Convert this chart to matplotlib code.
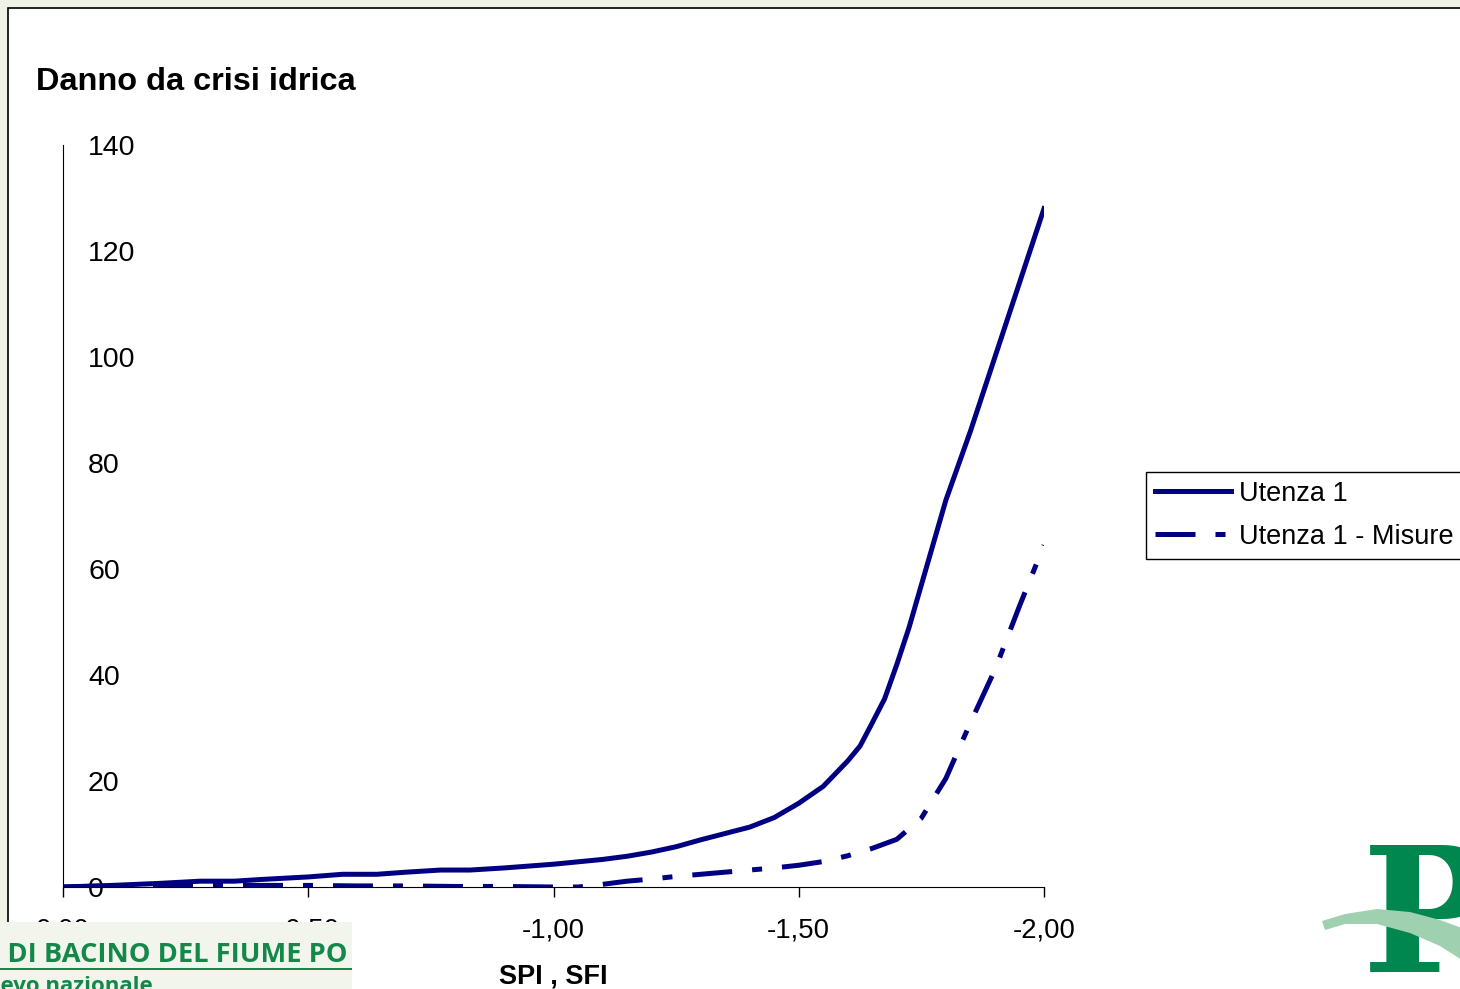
import matplotlib
matplotlib.use("Agg")
import matplotlib.pyplot as plt
from matplotlib.patches import Rectangle, Polygon

plt.rcParams['font.family'] = ['Liberation Sans', 'DejaVu Sans']

# SPI / SFI values (x) and damage (y)
spi = [0, -0.1, -0.2, -0.28, -0.35, -0.4, -0.5, -0.57, -0.64, -0.7, -0.77, -0.83, -0.9,
       -1.0, -1.1, -1.15, -1.2, -1.25, -1.3, -1.35, -1.4, -1.45, -1.5, -1.55, -1.6,
       -1.625, -1.65, -1.675, -1.7, -1.725, -1.75, -1.775, -1.8, -1.85, -1.9, -1.95, -2.0]
utenza1 = [0, 0.3, 0.7, 1.1, 1.1, 1.4, 1.9, 2.4, 2.4, 2.8, 3.2, 3.2, 3.6,
           4.3, 5.2, 5.8, 6.6, 7.6, 8.9, 10.1, 11.3, 13.1, 15.8, 19.0, 23.8,
           26.6, 31, 35.5, 42, 49, 57, 65, 73, 86, 100, 114, 128]

spi_m = [0, -0.1, -0.2, -0.3, -0.4, -0.5, -0.6, -0.7, -0.8, -0.9, -1.0, -1.05, -1.1,
         -1.15, -1.2, -1.25, -1.3, -1.35, -1.4, -1.45, -1.5, -1.55, -1.6, -1.65, -1.7,
         -1.75, -1.8, -1.85, -1.9, -1.95, -2.0]
utenza1_misure = [0, 0.2, 0.3, 0.3, 0.3, 0.3, 0.2, 0.2, 0.1, 0.1, 0.0, 0.0, 0.5,
                  1.1, 1.5, 2.0, 2.4, 2.8, 3.2, 3.6, 4.1, 4.8, 5.9, 7.3, 9.0,
                  13, 20.5, 31, 41, 53, 64.5]

xticks = [0, -0.5, -1.0, -1.5, -2.0]
xticklabels = ["0,00", "-0,50", "-1,00", "-1,50", "-2,00"]
yticks = [0, 20, 40, 60, 80, 100, 120, 140]

W, H = 1460, 989
fig = plt.figure(figsize=(W / 100, H / 100), dpi=100, facecolor="#eef3e6")

# white chart area with border
fig.patches.append(Rectangle((8 / W, -0.1), 1.2, 1.1 - 8 / H, transform=fig.transFigure,
                             facecolor="white", edgecolor="black", lw=1.2, zorder=-5))

ax = fig.add_axes([63 / W, 1 - 887 / H, (1044 - 63) / W, (887 - 145) / H])
ax.set_facecolor("none")
navy = "#000080"
ax.plot(spi, utenza1, color=navy, lw=3.6, label="Utenza 1", solid_joinstyle="round")
ax.plot(spi_m, utenza1_misure, color=navy, lw=3.6, dashes=(8, 4, 2, 4),
        label="Utenza 1 - Misure")

ax.set_xlim(0, -2)
ax.set_ylim(0, 140)
ax.spines["top"].set_visible(False)
ax.spines["right"].set_visible(False)
ax.set_xticks(xticks)
ax.set_xticklabels(xticklabels, fontsize=19.8)
ax.set_yticks(yticks)
ax.set_yticklabels([str(v) for v in yticks], fontsize=20.5)
for lab in ax.get_yticklabels():
    lab.set_horizontalalignment("left")
ax.tick_params(axis="y", length=0, pad=-18)
ax.tick_params(axis="x", direction="out", length=7, width=1, pad=15)
ax.set_xlabel("SPI , SFI", fontsize=19.5, fontweight="bold", labelpad=14)

fig.text(36 / W, 1 - 90 / H, "Danno da crisi idrica", fontsize=23.4, fontweight="bold",
         va="baseline", ha="left")

leg = ax.legend(loc="upper left", bbox_to_anchor=(1146 / W, 1 - 472 / H),
                bbox_transform=fig.transFigure, fontsize=19.5, frameon=True,
                fancybox=False, framealpha=1, edgecolor="black", borderaxespad=0,
                handlelength=2.8, handletextpad=0.3, labelspacing=0.62, borderpad=0.33)
leg.get_frame().set_linewidth(1)

# bottom-left logo strip
fig.patches.append(Rectangle((0, 0), 352 / W, (H - 922) / H, transform=fig.transFigure,
                             facecolor="#f1f5ec", edgecolor="none", zorder=5))
fig.text(348 / W, 1 - 962 / H, "AUTORITÀ DI BACINO DEL FIUME PO", family="Open Sans",
         fontsize=19.6, fontweight="bold", color="#13884a", ha="right", va="baseline", zorder=6)
fig.patches.append(Rectangle((0, 1 - 970 / H), 352 / W, 2 / H, transform=fig.transFigure,
                             facecolor="#13884a", edgecolor="none", zorder=6))
fig.text(153 / W, 1 - 992 / H, "di rilievo nazionale", family="Open Sans",
         fontsize=16, fontweight="bold", color="#13884a", ha="right", va="baseline", zorder=6)

# bottom-right logo
fig.text(1362 / W, 1 - 972 / H, "P", family="DejaVu Serif", fontsize=125,
         fontweight="bold", color="#00874f", ha="left", va="baseline", zorder=6)
upper = [(1322, 921), (1345, 914), (1377, 909), (1410, 912), (1440, 920), (1462, 928)]
lower = [(1462, 960), (1440, 946), (1410, 933), (1377, 924), (1345, 924), (1325, 930)]
pts = [(x / W, 1 - y / H) for x, y in upper + lower]
fig.patches.append(Polygon(pts, closed=True, transform=fig.transFigure,
                           facecolor="#9fd0b0", edgecolor="none", zorder=7))

fig.savefig("out.png", dpi=100, facecolor=fig.get_facecolor())
